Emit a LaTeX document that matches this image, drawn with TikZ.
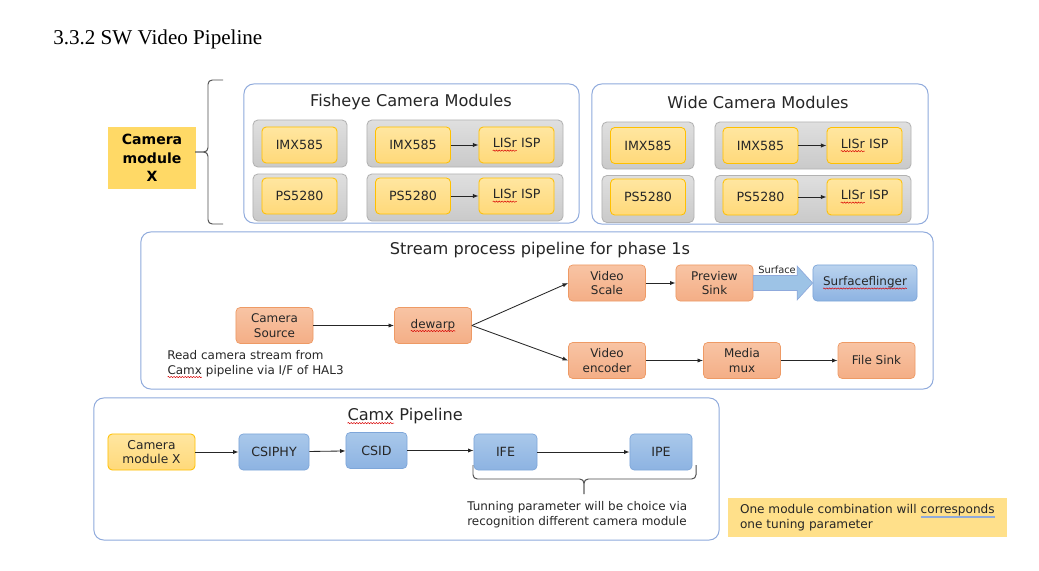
\documentclass[tikz,border=0pt]{standalone}
\usepackage{fontspec}
\setmainfont{DejaVu Sans}
\newfontfamily\headfont{Liberation Serif}
\usetikzlibrary{arrows.meta,decorations.pathmorphing}

\definecolor{frameblue}{HTML}{8FAADC}
\definecolor{sensorline}{HTML}{FFC000}
\definecolor{sensortop}{HTML}{FFE6A0}
\definecolor{sensorbot}{HTML}{FFD97A}
\definecolor{modxfill}{HTML}{FFD966}
\definecolor{notefill}{HTML}{FFE08A}
\definecolor{stageline}{HTML}{EE9A65}
\definecolor{stagetop}{HTML}{F8C4A4}
\definecolor{stagebot}{HTML}{F4AE86}
\definecolor{hwline}{HTML}{7EA6D9}
\definecolor{hwtop}{HTML}{A9C8EA}
\definecolor{hwbot}{HTML}{8DB3E2}
\definecolor{pipefill}{HTML}{9DC3E6}
\definecolor{labeltext}{HTML}{262626}

\newcommand{\redwave}[1]{\tikz[baseline=(word.base)]{\node[inner sep=0pt, outer sep=0pt, minimum size=0pt, anchor=base, draw=none, fill=none] (word) {#1};
	\draw[red!85!black, line width=0.35pt, rounded corners=0pt, decorate, decoration={snake, amplitude=0.45pt, segment length=2pt}]
		([yshift=-2pt]word.base west) -- ([yshift=-2pt]word.base east);}}
\newcommand{\blueline}[1]{\tikz[baseline=(word.base)]{\node[inner sep=0pt, outer sep=0pt, minimum size=0pt, anchor=base, draw=none, fill=none] (word) {#1};
	\draw[frameblue, line width=0.4pt] ([yshift=-1.8pt]word.base west) -- ([yshift=-1.8pt]word.base east)
		([yshift=-2.8pt]word.base west) -- ([yshift=-2.8pt]word.base east);}}

\begin{document}
\begin{tikzpicture}
			[x=0.025cm, y=-0.025cm,
			group/.style={draw=frameblue, line width=0.7pt, rounded corners=7pt, fill=white},
			grouptitle/.style={text=labeltext, font=\fontsize{11.5}{13}\selectfont},
			graybox/.style={draw=gray!60, top color=gray!25, bottom color=gray!42, rounded corners=3.5pt,
				line width=0.6pt, minimum height=1.175cm},
			sensor/.style={draw=sensorline, top color=sensortop, bottom color=sensorbot, rounded corners=3pt,
				line width=0.6pt, inner sep=0pt, minimum width=1.875cm, minimum height=0.9cm,
				text=labeltext, font=\fontsize{9}{11}\selectfont},
			stage/.style={draw=stageline, top color=stagetop, bottom color=stagebot, rounded corners=3pt,
				line width=0.5pt, inner sep=0pt, minimum width=1.925cm, minimum height=0.9cm, align=center,
				text=labeltext, font=\fontsize{8.5}{10.5}\selectfont},
			hw/.style={draw=hwline, top color=hwtop, bottom color=hwbot, rounded corners=3pt,
				line width=0.5pt, inner sep=0pt, minimum height=0.9cm,
				text=labeltext, font=\fontsize{9}{11}\selectfont},
			remark/.style={align=left, inner sep=0pt, text=labeltext, font=\fontsize{8.5}{10.7}\selectfont},
			flow/.style={draw=black!85, line width=0.6pt, -{Latex[length=4pt,width=3pt]}},
			curly/.style={draw=black!70, line width=0.7pt, rounded corners=3pt}]
			\useasboundingbox (0,0) rectangle (1039,571);
			\node[anchor=base west, inner sep=0pt, font=\headfont\fontsize{15}{18}\selectfont] (heading) at (53,45) {3.3.2 SW Video Pipeline};

			\node[fill=modxfill, minimum width=2.2cm, minimum height=1.55cm, align=center, inner sep=0pt,
				text=black, font=\bfseries\fontsize{10}{13}\selectfont] (modx) at (152,158) {Camera\\module\\X};
			\coordinate (modtop) at (223,80);
			\coordinate (modbot) at (223,224);
			\coordinate (modtip) at (195,152);
			\draw[curly] (modtop) -- (208,80) -- (208,152) -- (modtip);
			\draw[curly] (modbot) -- (208,224) -- (208,152) -- (modtip);

			\node[group, minimum width=8.375cm, minimum height=3.475cm] (fish) at (411.5,153.5) {};
			\node[grouptitle] (fishtitle) at (411,102) {Fisheye Camera Modules};
			\node[graybox, minimum width=2.35cm] (fgray1) at (300,143.5) {};
			\node[graybox, minimum width=2.35cm] (fgray2) at (300,197.5) {};
			\node[graybox, minimum width=4.9cm] (fgray3) at (465,143.5) {};
			\node[graybox, minimum width=4.9cm] (fgray4) at (465,197.5) {};
			\node[sensor] (fimx1) at (299.5,145) {IMX585};
			\node[sensor] (fps1) at (299.5,196) {PS5280};
			\node[sensor] (fimx2) at (413,145) {IMX585};
			\node[sensor] (fisp1) at (516.5,145) {\redwave{LISr} ISP};
			\node[sensor] (fps2) at (413,196) {PS5280};
			\node[sensor] (fisp2) at (516.5,196) {\redwave{LISr} ISP};
			\draw[flow] (fimx2) -- (fisp1);
			\draw[flow] (fps2) -- (fisp2);

			\node[group, minimum width=8.4cm, minimum height=3.5cm] (wide) at (760,154) {};
			\node[grouptitle] (widetitle) at (758,102) {Wide Camera Modules};
			\node[graybox, minimum width=2.3cm] (wgray1) at (648,145.5) {};
			\node[graybox, minimum width=2.3cm] (wgray2) at (648,199) {};
			\node[graybox, minimum width=4.9cm] (wgray3) at (813,145.5) {};
			\node[graybox, minimum width=4.9cm] (wgray4) at (813,199) {};
			\node[sensor] (wimx1) at (648,145.5) {IMX585};
			\node[sensor] (wps1) at (648,197) {PS5280};
			\node[sensor] (wimx2) at (760.5,145.5) {IMX585};
			\node[sensor] (wisp1) at (864.5,145.5) {\redwave{LISr} ISP};
			\node[sensor] (wps2) at (760.5,197) {PS5280};
			\node[sensor] (wisp2) at (864.5,197) {\redwave{LISr} ISP};
			\draw[flow] (wimx2) -- (wisp1);
			\draw[flow] (wps2) -- (wisp2);

			\node[group, minimum width=19.8cm, minimum height=3.925cm] (stream) at (537,310.5) {};
			\node[grouptitle] (streamtitle) at (540,250) {Stream process pipeline for phase 1s};
			\node[stage] (camsrc) at (274.5,325.5) {Camera\\Source};
			\node[stage] (dewarp) at (433,325.5) {\redwave{dewarp}};
			\node[stage] (vscale) at (607,283) {Video\\Scale};
			\node[stage] (psink) at (714.5,283) {Preview\\Sink};
			\node[hw, minimum width=2.6cm, top color=hwtop!80, font=\fontsize{8.5}{10.5}\selectfont] (sflinger) at (865,283) {\redwave{Surfaceflinger}};
			\node[stage] (venc) at (607,360.5) {Video\\encoder};
			\node[stage] (mmux) at (742,360.5) {Media\\mux};
			\node[stage] (fsink) at (876.5,360.5) {File Sink};
			\node[remark, anchor=west] (readnote) at (167,364) {Read camera stream from\\\redwave{Camx} pipeline via I/F of HAL3};
			\draw[flow] (camsrc) -- (dewarp);
			\draw[flow] (dewarp.east) -- (vscale.west);
			\draw[flow] (dewarp.east) -- (venc.west);
			\draw[flow] (vscale) -- (psink);
			\draw[flow] (venc) -- (mmux);
			\draw[flow] (mmux) -- (fsink);
			\draw[draw=frameblue, fill=pipefill, line width=0.5pt]
				([yshift=5.3pt]psink.east) -- ([xshift=-11pt,yshift=5.3pt]sflinger.west)
				-- ([xshift=-11pt,yshift=12pt]sflinger.west) -- (sflinger.west)
				-- ([xshift=-11pt,yshift=-12pt]sflinger.west) -- ([xshift=-11pt,yshift=-5.3pt]sflinger.west)
				-- ([yshift=-5.3pt]psink.east) -- cycle;
			\node[text=labeltext, font=\fontsize{7}{8}\selectfont] (surflabel) at (777,270) {Surface};

			\node[group, minimum width=15.625cm, minimum height=3.55cm] (camx) at (406.5,469) {};
			\node[grouptitle] (camxtitle) at (405,416) {\redwave{Camx} Pipeline};
			\node[sensor, minimum width=2.175cm, align=center, font=\fontsize{8.7}{10.5}\selectfont] (cammod) at (151.5,452) {Camera\\module X};
			\node[hw, minimum width=1.75cm] (csiphy) at (274,452) {CSIPHY};
			\node[hw, minimum width=1.525cm] (csid) at (376.5,450.5) {CSID};
			\node[hw, minimum width=1.575cm] (ife) at (505.5,452) {IFE};
			\node[hw, minimum width=1.55cm] (ipe) at (661,452) {IPE};
			\draw[flow] (cammod) -- (csiphy);
			\draw[flow] (csiphy) -- (csid);
			\draw[flow] (csid.east) -- (csid.east -| ife.west);
			\draw[flow] (ife) -- (ipe);
			\coordinate (tuneleft) at (473,465);
			\coordinate (tuneright) at (696,465);
			\coordinate (tunetip) at (584,494);
			\draw[curly] (tuneleft) -- (473,479) -- (584,479) -- (tunetip);
			\draw[curly] (tuneright) -- (696,479) -- (584,479) -- (tunetip);
			\node[remark, anchor=north west] (tunenote) at (467,501) {Tunning parameter will be choice via\\recognition different camera module};

			\node[fill=notefill, minimum width=6.975cm, minimum height=0.975cm, remark,
				font=\fontsize{8.6}{10.5}\selectfont] (combo) at (867.5,517.5) {One module combination will \blueline{corresponds}\\one tuning parameter};
		\end{tikzpicture}
\end{document}
